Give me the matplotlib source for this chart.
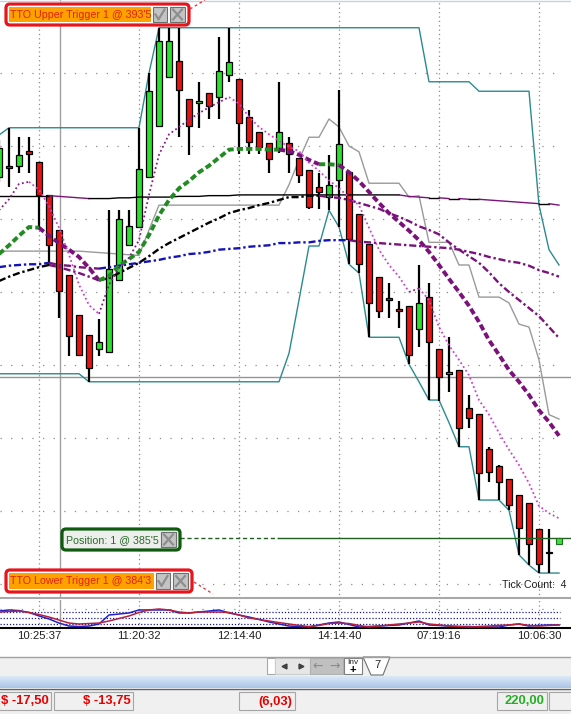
# Trading chart screenshot: candles, moving averages, bands, order labels and an oscillator panel

import numpy as np
import matplotlib
matplotlib.use("Agg")
import matplotlib.pyplot as plt
from matplotlib.patches import Rectangle, FancyBboxPatch, Polygon

plt.rcParams['font.family'] = ['Liberation Sans', 'DejaVu Sans']

# ---- data ---------------------------------------------------------------
bars = np.arange(-1, 55)          # bar index of every candle
line_bars = np.arange(-1, 56)     # indicator lines run one bar further

opens = [390.58, 390.73, 390.73, 390.93, 390.78, 390.33, 389.85, 389.23, 388.68, 388.41,
         388.22, 388.18, 389.16, 389.64, 389.89, 390.58, 391.27, 391.95, 392.16, 391.64,
         391.59, 391.73, 391.67, 391.97, 391.92, 391.40, 391.19, 391.04, 390.97, 391.04,
         390.84, 390.67, 390.44, 390.30, 390.53, 390.64, 390.07, 389.66, 389.21, 388.92,
         388.77, 388.81, 388.49, 388.93, 388.22, 387.88, 387.93, 387.41, 387.33, 386.85,
         386.62, 386.44, 386.22, 386.11, 385.75, 385.44]
highs = [391.08, 391.25, 391.12, 391.12, 390.78, 390.33, 389.85, 389.23, 388.68, 388.41,
         388.63, 390.12, 390.12, 390.12, 391.25, 392.00, 392.62, 392.62, 392.62, 391.64,
         391.88, 391.73, 392.49, 392.62, 391.92, 391.49, 391.19, 391.04, 391.88, 391.12,
         390.84, 390.67, 390.63, 390.88, 391.77, 390.64, 390.07, 389.66, 389.21, 389.12,
         388.88, 388.81, 389.37, 389.12, 388.22, 388.38, 387.93, 387.59, 387.33, 386.88,
         386.63, 386.44, 386.22, 386.11, 385.75, 385.75]
lows = [390.51, 390.44, 390.63, 390.63, 389.86, 389.36, 388.64, 388.12, 388.14, 387.77,
        388.12, 388.18, 389.16, 389.64, 389.89, 390.58, 391.27, 391.95, 391.12, 390.88,
        391.25, 391.37, 391.37, 391.88, 390.89, 390.89, 390.89, 390.63, 390.90, 390.63,
        390.49, 390.14, 390.14, 390.12, 389.89, 389.38, 389.26, 388.38, 388.64, 388.64,
        388.51, 388.01, 388.25, 387.52, 387.51, 387.63, 386.88, 387.14, 386.15, 386.40,
        386.15, 386.01, 385.40, 385.26, 385.15, 385.15]
closes = [390.97, 390.70, 390.88, 390.89, 390.33, 389.64, 389.01, 388.40, 388.14, 387.96,
          388.32, 389.32, 390.00, 389.90, 390.68, 391.75, 392.44, 392.44, 391.77, 391.27,
          391.62, 391.55, 392.03, 392.15, 391.32, 391.05, 390.99, 390.82, 391.19, 390.89,
          390.60, 390.16, 390.37, 390.47, 391.03, 389.73, 389.38, 388.85, 388.74, 388.89,
          388.74, 388.14, 388.85, 388.32, 387.84, 387.90, 387.14, 387.27, 386.52, 386.53,
          386.40, 386.08, 385.77, 385.55, 385.27, 385.42]

fast_ma = [390.12, 390.27, 390.48, 390.51, 390.40, 390.18, 389.88, 389.51, 389.10, 388.82,
           388.70, 389.10, 389.33, 389.47, 389.71, 390.33, 390.88, 391.16, 391.26, 391.36,
           391.45, 391.53, 391.60, 391.67, 391.58, 391.40, 391.26, 391.16, 391.07, 390.99,
           390.93, 390.77, 390.66, 390.53, 390.42, 390.30, 390.19, 389.88, 389.58, 389.37,
           389.21, 389.00, 389.05, 388.89, 388.52, 388.27, 388.07, 387.86, 387.52, 387.32,
           387.07, 386.84, 386.63, 386.38, 386.07, 385.97, 385.90]
mid_ma = [389.52, 389.64, 389.77, 389.89, 389.88, 389.77, 389.67, 389.58, 389.48, 389.33,
          389.16, 389.22, 389.36, 389.45, 389.55, 389.78, 390.05, 390.26, 390.42, 390.52,
          390.64, 390.73, 390.84, 390.95, 390.96, 390.96, 390.96, 390.95, 390.95, 390.93,
          390.88, 390.81, 390.75, 390.75, 390.74, 390.64, 390.52, 390.37, 390.22, 390.08,
          389.96, 389.84, 389.71, 389.55, 389.37, 389.18, 389.00, 388.81, 388.59, 388.34,
          388.14, 387.93, 387.77, 387.59, 387.38, 387.22, 387.03]
slow_ma = [389.15, 389.21, 389.26, 389.30, 389.34, 389.37, 389.34, 389.30, 389.26, 389.21,
           389.16, 389.19, 389.26, 389.33, 389.40, 389.49, 389.59, 389.67, 389.74, 389.81,
           389.88, 389.95, 390.01, 390.08, 390.12, 390.15, 390.19, 390.22, 390.26, 390.30,
           390.30, 390.32, 390.32, 390.30, 390.29, 390.26, 390.22, 390.18, 390.14, 390.08,
           390.03, 389.97, 389.90, 389.85, 389.79, 389.68, 389.58, 389.49, 389.40, 389.27,
           389.12, 389.00, 388.89, 388.78, 388.67, 388.52, 388.37]
blue_ma = [389.34, 389.36, 389.37, 389.38, 389.38, 389.40, 389.37, 389.36, 389.34, 389.33,
           389.32, 389.34, 389.36, 389.38, 389.40, 389.42, 389.44, 389.47, 389.49, 389.52,
           389.53, 389.55, 389.58, 389.59, 389.60, 389.62, 389.63, 389.64, 389.67, 389.67,
           389.68, 389.68, 389.70, 389.71, 389.71, 389.71, 389.69, 389.68, 389.67, 389.66,
           389.65, 389.64, 389.63, 389.62, 389.61, 389.60, 389.58, 389.55, 389.52, 389.48,
           389.45, 389.42, 389.40, 389.36, 389.30, 389.26, 389.21]
long_ma = ([390.32] * 6 +
           [390.31, 390.30, 390.29, 390.28, 390.28, 390.28, 390.29, 390.29, 390.30, 390.30,
            390.30, 390.30, 390.31, 390.31, 390.31, 390.32, 390.32, 390.32, 390.33] +
           [390.33] * 16 +
           [390.31, 390.30, 390.29, 390.29, 390.28, 390.28, 390.27, 390.27, 390.26, 390.25,
            390.24, 390.23, 390.22, 390.21, 390.21, 390.19])
upper_band = ([391.15] + [391.25] * 14 + [392.00] + [392.62] * 27 + [391.88] * 5 +
              [391.75] * 6 + [390.19, 389.58, 389.37])
lower_band = ([387.88] * 9 + [387.77] * 20 +
              [388.16, 388.89, 389.63, 389.63, 390.12, 389.89, 389.38, 389.26] +
              [388.38] * 4 + [388.01, 387.77, 387.52, 387.52, 387.21, 386.88, 386.88] +
              [386.15] * 3 + [386.01, 385.40, 385.26] + [385.15] * 3)
gray_line = ([389.56] * 9 + [389.55, 389.54, 389.53, 389.52, 389.51, 389.50, 389.85] +
             [390.19] * 13 +
             [390.47, 390.81, 391.12, 391.12, 391.37, 391.26, 391.00, 390.92] +
             [390.49] * 4 + [390.30, 390.32] + [389.68] * 3 + [389.37, 389.37] +
             [388.93] * 3 + [388.85, 388.56, 388.52, 388.07, 387.32, 387.26])

osc_blue = [108, 117, 112, 96, 67, 42, 8, -17, -21, -17, 0, 75, 83, 92, 117, 117, 117, 117,
            92, 92, 100, 108, 117, 92, 75, 58, 38, 17, 0, -17, -21, -25, -8, 8, 17, -4, -25,
            -21, -17, -12, -8, 8, 25, -8, -12, -17, -21, -21, -25, -25, -25, -8, 0, -17, -12,
            -8, -8]
osc_red = [100, 104, 108, 96, 79, 58, 33, 8, 0, 4, 8, 25, 46, 67, 96, 117, 125, 117, 100, 92,
           100, 100, 100, 96, 75, 50, 38, 25, 12, 0, -12, -21, -12, 4, 8, 4, -12, -25, -17, -8,
           0, 8, 17, 0, -8, -17, -21, -25, -21, -17, -12, -8, 0, -12, -17, -12, -8]
osc_levels = [0, 50, 100]

price_grid = [385, 386, 387, 388, 389, 390, 391, 392]
time_ticks = [3, 13, 23, 33, 43, 53]
time_labels = ["10:25:37", "11:20:32", "12:14:40", "14:14:40", "07:19:16", "10:06:30"]

position_price = 385.625
hline_price = 387.84
cursor_bar = 5.05

upper_text = "TTO Upper Trigger 1 @ 393'5"
lower_text = "TTO Lower Trigger 1 @ 384'3"
position_text = "Position: 1 @ 385'5"
status_values = ["$ -17,50", "$ -13,75", "(6,03)", "220,00"]

# ---- layout ---------------------------------------------------------------
W, H = 571, 714
fig = plt.figure(figsize=(W / 100, H / 100), dpi=100)
fig.patch.set_facecolor('white')

XMIN, XMAX = -0.9, 56.2
ax = fig.add_axes([0, 1 - 598 / H, 1, 598 / H])
ax.set_xlim(XMIN, XMAX)
ax.set_ylim(393 - 598 / 73, 393)
ax.set_xticks([])
ax.set_yticks([])
for s in ['top', 'left', 'right']:
    ax.spines[s].set_visible(False)
ax.spines['bottom'].set_color('#A8A8A8')
ax.spines['bottom'].set_linewidth(1.5)

ind = fig.add_axes([0, 1 - 628 / H, 1, 28 / H])
ind.set_xlim(XMIN, XMAX)
ind.set_ylim(-33.3, 200)
ind.set_yticks([])
for s in ['top', 'left', 'right']:
    ind.spines[s].set_visible(False)
ind.spines['bottom'].set_color('black')
ind.spines['bottom'].set_linewidth(1.5)
ind.set_xticks(time_ticks)
ind.set_xticklabels(time_labels)
ind.tick_params(axis='x', length=0, pad=2.5, labelsize=8.2, labelcolor='#202020')

# ---- grid ---------------------------------------------------------------
ax.hlines(price_grid, XMIN, 55.1, colors='#8C8C8C', linestyles=(0, (1, 7.5)), lw=0.9, zorder=1)
ax.vlines(time_ticks, 384.8, 393, colors='#8C8C8C', linestyles=(0, (1, 2.5)), lw=0.9, zorder=1)
ind.vlines(time_ticks, -33, 200, colors='#8C8C8C', linestyles=(0, (1, 2.5)), lw=0.9, zorder=1)
ind.hlines(osc_levels, XMIN, 55.1, colors='#1A1A8C', linestyles=(0, (1, 1.5)), lw=0.9, zorder=1)
ind.hlines([125], XMIN, 55.1, colors='#8C8C8C', linestyles=(0, (1, 7.5)), lw=0.9, zorder=1)
ax.axvline(cursor_bar, color='#A0A0A0', lw=1.0, zorder=2)
ind.axvline(cursor_bar, color='#A0A0A0', lw=1.0, zorder=2)
ax.axhline(hline_price, color='#959595', lw=1.0, zorder=2)

# ---- bands ---------------------------------------------------------------
ax.plot(line_bars, upper_band, color='#2B8A8F', lw=1.0, zorder=2)
ax.plot(line_bars, lower_band, color='#2B8A8F', lw=1.0, zorder=2)
ax.plot(line_bars, gray_line, color='#9A9A9A', lw=1.0, zorder=2)

# ---- candles ---------------------------------------------------------------
o = np.array(opens)
c = np.array(closes)
body_colors = ['#2EE02E' if cc >= oo else '#E51414' for oo, cc in zip(o, c)]
ax.vlines(bars, lows, highs, color='black', lw=1.6, zorder=3)
ax.bar(bars, c - o, bottom=o, width=0.62, color=body_colors,
       edgecolor='black', linewidth=0.9, zorder=4)


def two_tone(axis, x, y, up_color, down_color, tol, **kw):
    # colour each run of bars by the direction of the line
    y = np.asarray(y, dtype=float)
    x = np.asarray(x, dtype=float)
    falling = np.diff(y) < -tol
    start = 0
    for i in range(1, len(falling) + 1):
        if i == len(falling) or falling[i] != falling[start]:
            axis.plot(x[start:i + 1], y[start:i + 1],
                      color=down_color if falling[start] else up_color, **kw)
            start = i


two_tone(ax, line_bars, long_ma, 'black', '#7A127A', 0.001, lw=1.0, zorder=5)
two_tone(ax, line_bars, blue_ma, '#1414B4', '#7A127A', 0.001, lw=1.7,
         ls=(0, (3, 1.2, 1, 1.2)), zorder=5)
two_tone(ax, line_bars, slow_ma, 'black', '#7A127A', 0.001, lw=1.7,
         ls=(0, (3, 1.2, 1, 1.2)), zorder=5)
two_tone(ax, line_bars, mid_ma, '#228B22', '#7A127A', 0.015, lw=2.8,
         ls=(0, (1.6, 0.8)), zorder=6)
two_tone(ax, line_bars, fast_ma, '#8A1A8A', '#D040D0', 0.001, lw=1.3,
         ls=(0, (1, 1.5)), zorder=6)

# ---- position line ---------------------------------------------------------
ax.plot([17.1, 26.9], [position_price] * 2, color='#1F5F1F', lw=1.0, ls=(0, (3, 2)), zorder=6)
ax.plot([26.9, XMAX], [position_price] * 2, color='#1F5F1F', lw=1.0, zorder=6)
ax.plot([55], [position_price - 0.03], marker='s', ms=5, mfc='#3BE03B', mec='#1F6F1F',
        mew=0.8, zorder=7, clip_on=False)

# ---- indicator lines --------------------------------------------------------
ind.plot(line_bars, osc_blue, color='#2222C8', lw=1.1, zorder=3)
ind.plot(line_bars, osc_red, color='#B8203C', lw=1.1, zorder=4)

# ---- overlay in pixels: labels and window chrome ------------------------------
ov = fig.add_axes([0, 0, 1, 1], zorder=10)
ov.set_xlim(0, W)
ov.set_ylim(H, 0)
ov.axis('off')
ov.patch.set_alpha(0)

ov.plot([0, W], [0.5, 0.5], color='#C4D2E2', lw=1)


def button(x, y, w, h, kind):
    ov.add_patch(Rectangle((x, y), w, h, fc='#C4C4C4', ec='#6E6E6E', lw=0.8))
    cx, cy = x + w / 2, y + h / 2
    if kind == 'x':
        ov.plot([cx - 4.5, cx + 4.5], [cy - 5, cy + 5], color='#8E8E8E', lw=1.6)
        ov.plot([cx - 4.5, cx + 4.5], [cy + 5, cy - 5], color='#8E8E8E', lw=1.6)
    else:
        ov.plot([cx - 4.5, cx - 1.5, cx + 4.5], [cy, cy + 5, cy - 5], color='#8E8E8E', lw=1.6)


def trigger(x0, y0, x1, y1, fill_end, text):
    ov.add_patch(FancyBboxPatch((x0, y0), x1 - x0, y1 - y0,
                                boxstyle='round,pad=0,rounding_size=4',
                                fc='white', ec='#E8141C', lw=2.3))
    ov.add_patch(Rectangle((x0 + 3, y0 + 3), fill_end - x0 - 3, y1 - y0 - 6, fc='#FFA200', lw=0))
    ov.text(x0 + 4.5, (y0 + y1) / 2 + 0.5, text, ha='left', va='center',
            fontsize=7.7, color='#E4200A')
    button(fill_end + 2, y0 + 3, 14, y1 - y0 - 6, 'v')
    button(fill_end + 19, y0 + 3, 15, y1 - y0 - 6, 'x')


trigger(6, 4, 189, 25, 151, upper_text)
ov.plot([190, 205], [9, 0], color='#E04040', lw=1.0, ls=(0, (2, 2)))
trigger(6, 570, 192, 592, 154, lower_text)
ov.plot([194, 213], [582, 594], color='#E04040', lw=1.0, ls=(0, (2, 2)))

ov.add_patch(FancyBboxPatch((62, 529), 118, 21, boxstyle='round,pad=0,rounding_size=4',
                            fc='#EDEFED', ec='#0E5A0E', lw=2.3))
ov.text(66, 540, position_text, ha='left', va='center', fontsize=7.7, color='#2A6A2A')
button(161, 532, 15, 15, 'x')

ov.text(566, 585, "Tick Count:  4", ha='right', va='center', fontsize=7.6, color='#202020')

# scroll bar row
ov.add_patch(Rectangle((0, 657), W, 19, fc='#F0F0F0', lw=0))
ov.plot([0, W], [657, 657], color='#A0A0A0', lw=1)
ov.add_patch(Rectangle((267, 658), 8, 16, fc='white', ec='#A8A8A8', lw=0.8))
ov.add_patch(Rectangle((275, 658), 35, 16, fc='#E6E6E6', ec='#CCCCCC', lw=0.8))
ov.plot([284], [666], marker='<', ms=3.5, color='#404040')
ov.plot([301], [666], marker='>', ms=3.5, color='#404040')
ov.add_patch(Rectangle((310, 658), 33, 16, fc='#C0C0C0', ec='#B0B0B0', lw=0.8))
ov.text(318, 666, '←', ha='center', va='center', fontsize=9, color='#8A8A8A',
        family=['DejaVu Sans'])
ov.text(335, 666, '→', ha='center', va='center', fontsize=9, color='#8A8A8A',
        family=['DejaVu Sans'])
ov.add_patch(Rectangle((344, 658), 18, 16, fc='white', ec='#808080', lw=0.8))
ov.text(353, 662.5, 'Inv', ha='center', va='center', fontsize=6, color='#202020')
ov.text(353, 670, '+', ha='center', va='center', fontsize=8, color='black', weight='bold')
ov.add_patch(Polygon([(363, 657), (371, 675), (383, 675), (390, 657)], closed=True,
                     fc='white', ec='#707070', lw=0.8))
ov.text(377, 665.5, '7', ha='center', va='center', fontsize=8, color='#202020')

# blue band
grad = np.linspace(0, 1, 20).reshape(-1, 1)
ov.imshow(grad, cmap=matplotlib.colors.LinearSegmentedColormap.from_list(
    'band', ['#DCE9F7', '#A9C6E6']), extent=(0, W, 688, 676), aspect='auto', zorder=1)
ov.plot([0, W], [688.5, 688.5], color='#5A6470', lw=1)
ov.set_xlim(0, W)
ov.set_ylim(H, 0)

# status bar
ov.add_patch(Rectangle((0, 689), W, 25, fc='#F0F0F0', lw=0))
for bx, bw in [(-1, 52), (54, 79), (239, 56), (497, 50), (549, 30)]:
    ov.add_patch(Rectangle((bx, 692), bw, 18, fc='#F0F0F0', ec='#A6A6A6', lw=0.8))
for tx, val, col in [(49, status_values[0], '#E60000'), (131, status_values[1], '#E60000'),
                     (292, status_values[2], '#E60000'), (544, status_values[3], '#22B022')]:
    ov.text(tx, 701.5, val, ha='right', va='center', fontsize=9.4, weight='bold', color=col)

fig.savefig('out.png', dpi=100)
